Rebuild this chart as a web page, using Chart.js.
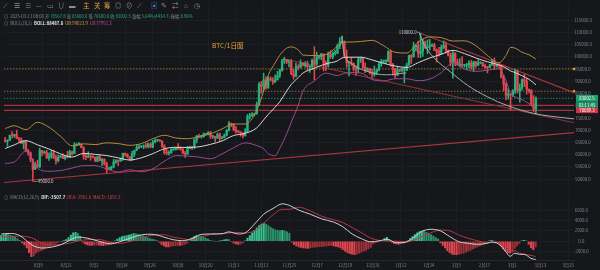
<!DOCTYPE html>
<html>
<head>
<meta charset="utf-8">
<script src="https://cdn.jsdelivr.net/npm/chart.js"></script>
<style>
body{margin:0;background:#15171b;}
#page{position:relative;width:600px;height:270px;overflow:hidden;background:#15171b;font-family:'Noto Sans CJK SC','Noto Sans',sans-serif;}
.box{position:absolute;}
.txt{position:absolute;white-space:nowrap;font-size:4.3px;color:#858a93;line-height:6px;}
.tool{position:absolute;top:1px;font-size:6.5px;color:#8d9199;line-height:8px;}
.y{color:#d9a43a;}
.g{color:#24b07d;}
.w{color:#e6e6e6;font-weight:bold;}
.o{color:#d4a03f;}
.p{color:#c0529f;}
.r{color:#d9444f;}
</style>
</head>
<body>
<div id="page">
  <div class="box" style="left:0;top:0;width:600px;height:192px"><canvas id="moncanvas"></canvas></div>
  <div class="box" style="left:0;top:192px;width:600px;height:78px"><canvas id="canvas2"></canvas></div>

  <span class="tool" style="left:3px">⟋</span>
  <span class="tool" style="left:14px">☰</span>
  <span class="tool" style="left:25px">≡</span>
  <span class="tool" style="left:36px">—</span>
  <span class="tool" style="left:47px">▭</span>
  <span class="tool" style="left:58px">∪</span>
  <span class="tool" style="left:69px">▬</span>
  <span class="tool y" style="left:83px">主</span>
  <span class="tool y" style="left:94px">关</span>
  <span class="tool y" style="left:104px">筹</span>
  <span class="tool" style="left:115px">◎</span>
  <span class="tool" style="left:126px">⊘</span>
  <span class="tool" style="left:137px">⟋</span>
  <span class="tool" style="left:151px;color:#3f7be0">▣</span>
  <span class="tool" style="left:161px">✎</span>
  <span class="tool" style="left:172px">⇄</span>
  <span class="tool" style="left:184px">⌂</span>
  <span class="tool" style="left:194px">◷</span>

  <div class="txt" style="left:4px;top:12.5px">⊙&nbsp; 2025-03-11 08:00 开 <span class="g">78567.8</span> 高 <span class="g">83600.0</span> 低 <span class="g">76600.0</span> 收 <span class="g">83002.5</span> 涨幅 <span class="g">5.64%(4434.7)</span> 振幅 <span class="g">8.96%</span></div>
  <div class="txt" style="left:4px;top:19.7px">⊙&nbsp; BOLL(20,2)&nbsp; <span class="w">BOLL:88487.6</span>&nbsp; <span class="o">UB:99023.9</span>&nbsp; <span class="p">LB:77951.3</span></div>
  <div class="txt" style="left:212px;top:41px;font-size:6.6px;line-height:9px;color:#e3a43a">BTC/1日图</div>
  <div class="txt" style="left:4px;top:193.7px">⊙&nbsp; MACD(12,26,9)&nbsp; <span class="w">DIF:-3507.7</span>&nbsp; <span class="r">DEA:-2961.6&nbsp; MACD:-1092.3</span></div>
</div>
<script>
// prices in thousands of USDT, one candle per day, day 0 = 2024-07-24
const opens = [
65.9,65.4,65.8,67.9,67.8,68.3,66.8,66.2,64.6,65.4,61.5,60.7,58.1,54.0,56.0,55.1,61.7,60.8,60.9,58.7,
59.3,60.6,58.7,57.5,58.9,59.5,58.4,59.5,59.0,61.2,60.4,64.0,64.2,64.3,62.9,59.4,59.0,59.4,59.1,58.9,
57.3,59.1,57.5,58.0,56.2,53.9,54.2,54.9,57.0,57.6,57.3,58.1,60.5,60.0,59.1,58.2,60.3,61.8,62.9,63.2,
63.3,63.6,63.3,64.3,63.1,65.2,65.8,65.9,65.6,63.3,60.8,60.6,60.8,62.1,62.1,62.8,62.3,62.2,60.6,60.3,
62.4,63.2,62.9,66.1,67.6,67.4,67.4,68.4,68.4,69.0,67.4,67.4,66.7,68.2,66.6,67.0,68.0,69.9,72.7,72.3,
70.2,69.5,69.3,68.7,67.8,69.4,75.6,75.9,76.5,76.7,80.4,88.7,87.9,90.5,87.4,91.1,90.6,89.8,90.5,92.3,
94.3,98.3,98.9,97.8,98.0,93.0,91.9,95.9,95.6,97.5,96.4,97.2,95.9,96.0,98.6,97.0,99.9,99.9,101.1,97.3,
96.6,101.1,100.0,101.4,101.4,104.5,106.1,106.1,100.2,97.5,97.8,97.3,95.2,94.9,98.7,99.3,95.8,94.2,95.2,93.6,
92.8,93.6,94.6,97.0,98.1,98.2,98.3,102.1,96.9,95.0,92.5,94.7,94.5,94.5,94.5,96.5,100.5,99.9,104.1,104.6,
101.3,102.3,106.1,103.7,104.0,104.7,104.7,102.6,102.1,101.3,103.7,104.7,102.4,100.6,97.7,101.4,97.9,96.6,96.6,96.5,
96.5,96.5,97.4,95.8,97.9,96.6,97.5,97.6,96.1,95.8,95.6,96.6,98.3,96.2,96.6,96.3,91.6,88.7,84.3,84.7,
84.4,86.1,94.3,86.1,87.2,90.6,89.9,86.7,86.2,80.7,78.5678
];
const highs = [
67.1,66.1,68.0,69.4,68.3,70.0,67.0,66.9,65.6,65.6,62.2,61.1,58.3,57.0,57.7,62.7,61.7,61.5,61.8,60.7,
61.6,61.8,59.8,59.8,59.6,60.3,59.6,61.4,61.8,61.4,64.9,64.5,64.9,64.4,63.2,60.2,61.2,59.9,59.5,59.1,
59.4,59.8,58.5,58.3,56.9,54.9,55.3,58.1,58.0,57.9,58.6,60.6,60.6,60.4,59.2,61.3,61.8,63.9,64.1,63.6,
64.0,64.7,64.8,64.8,65.8,66.5,66.3,66.1,65.6,64.1,62.4,61.5,62.5,62.4,63.0,64.5,63.2,62.5,61.3,63.4,
63.5,63.3,66.5,67.9,68.4,67.9,68.9,68.7,69.4,69.5,67.8,67.5,68.8,68.8,67.5,68.4,70.3,73.6,72.9,72.7,
71.6,69.9,69.4,69.0,70.6,76.4,76.9,77.2,76.9,81.5,89.5,89.9,93.3,91.8,91.9,91.8,91.5,92.6,94.0,94.9,
99.0,99.8,98.9,98.7,98.9,94.9,97.4,96.7,98.7,97.5,98.0,98.2,96.3,99.0,104.1,101.9,100.5,101.4,101.2,98.3,
101.9,102.5,102.0,102.7,105.2,107.8,108.4,106.5,102.8,98.1,99.5,97.4,96.4,99.5,99.9,99.9,97.5,95.5,95.2,94.9,
96.2,95.0,97.8,98.9,98.7,98.8,102.5,102.7,97.3,95.3,95.8,95.0,95.4,95.9,97.4,100.7,100.9,105.9,104.9,106.4,
109.6,107.2,106.4,106.9,107.1,105.3,105.5,103.2,103.8,104.8,106.5,106.0,102.8,101.5,102.5,101.7,99.0,99.2,100.1,96.9,
97.3,98.3,98.5,98.1,98.0,98.8,97.9,97.7,97.0,96.0,96.9,98.8,99.5,96.9,96.6,96.5,92.5,89.3,87.0,85.0,
86.6,95.0,94.4,88.9,91.0,92.8,91.2,86.8,86.5,84.1,83.6
];
const lows = [
65.1,63.4,65.8,66.7,67.0,66.5,65.3,64.5,62.3,61.1,59.8,57.1,49.0,54.0,54.6,54.7,59.5,60.3,58.4,57.6,
58.4,58.4,56.1,57.0,58.8,58.4,57.8,58.6,58.8,59.8,60.3,63.6,63.8,62.8,58.1,57.9,58.8,57.7,58.7,57.2,
57.1,57.4,55.6,55.7,52.5,53.7,53.6,54.6,56.4,55.5,57.3,57.6,59.4,58.7,57.5,57.6,59.2,61.6,62.4,62.8,
62.4,62.7,62.7,62.9,62.7,64.8,65.4,65.4,62.9,60.2,59.9,59.8,60.5,61.7,61.8,62.1,61.8,60.3,58.9,60.0,
62.4,62.0,62.4,64.8,66.8,66.7,67.1,68.0,68.1,66.6,66.6,65.3,66.6,65.5,66.4,66.8,67.6,69.7,71.4,69.7,
68.8,69.0,67.5,66.8,67.5,69.4,74.5,75.6,75.8,76.5,80.2,85.1,86.2,86.7,87.0,90.1,88.7,89.4,90.5,91.5,
94.1,97.2,97.2,95.8,92.6,90.8,91.8,94.6,95.4,96.2,95.7,94.3,93.6,94.7,90.5,96.4,99.0,98.8,94.2,94.3,
95.7,99.3,99.2,100.6,101.2,103.3,105.3,100.0,95.7,92.2,96.4,94.2,92.4,93.4,97.6,95.1,93.5,94.0,92.9,91.3,
92.0,92.7,94.2,96.0,97.5,97.3,97.9,96.1,92.5,91.2,92.2,93.8,93.7,89.3,94.3,96.5,97.3,99.9,102.3,99.7,
99.6,100.1,103.3,101.2,102.8,104.1,102.5,97.8,100.3,101.0,103.3,101.5,100.3,96.2,91.2,96.2,96.6,95.7,95.7,95.7,
94.7,95.3,94.9,94.1,95.7,96.3,97.1,96.0,95.2,93.4,95.5,96.4,94.9,95.8,95.1,91.3,86.1,82.3,82.7,78.3,
83.8,85.0,85.1,81.4,86.3,87.8,84.7,85.2,80.0,77.5,76.6
];
const closes = [
65.4,65.8,67.9,67.8,68.3,66.8,66.2,64.6,65.4,61.5,60.7,58.1,54.0,56.0,55.1,61.7,60.8,60.9,58.7,59.3,
60.6,58.7,57.5,58.9,59.5,58.4,59.5,59.0,61.2,60.4,64.0,64.2,64.3,62.9,59.4,59.0,59.4,59.1,58.9,57.3,
59.1,57.5,58.0,56.2,53.9,54.2,54.9,57.0,57.6,57.3,58.1,60.5,60.0,59.1,58.2,60.3,61.8,62.9,63.2,63.3,
63.6,63.3,64.3,63.1,65.2,65.8,65.9,65.6,63.3,60.8,60.6,60.8,62.1,62.1,62.8,62.3,62.2,60.6,60.3,62.4,
63.2,62.9,66.1,67.6,67.4,67.4,68.4,68.4,69.0,67.4,67.4,66.7,68.2,66.6,67.0,68.0,69.9,72.7,72.3,70.2,
69.5,69.3,68.7,67.8,69.4,75.6,75.9,76.5,76.7,80.4,88.7,87.9,90.5,87.4,91.1,90.6,89.8,90.5,92.3,94.3,
98.3,98.9,97.8,98.0,93.0,91.9,95.9,95.6,97.5,96.4,97.2,95.9,96.0,98.6,97.0,99.9,99.9,101.1,97.3,96.6,
101.1,100.0,101.4,101.4,104.5,106.1,106.1,100.2,97.5,97.8,97.3,95.2,94.9,98.7,99.3,95.8,94.2,95.2,93.6,92.8,
93.6,94.6,97.0,98.1,98.2,98.3,102.1,96.9,95.0,92.5,94.7,94.5,94.5,94.5,96.5,100.5,99.9,104.1,104.6,101.3,
102.3,106.1,103.7,104.0,104.7,104.7,102.6,102.1,101.3,103.7,104.7,102.4,100.6,97.7,101.4,97.9,96.6,96.6,96.5,96.5,
96.5,97.4,95.8,97.9,96.6,97.5,97.6,96.1,95.8,95.6,96.6,98.3,96.2,96.6,96.3,91.6,88.7,84.3,84.7,84.4,
86.1,94.3,86.1,87.2,90.6,89.9,86.7,86.2,80.7,78.6,83.0025
];

// BOLL(20,2) at these days
const bollDays = [0,4,9,14,19,24,29,34,39,44,49,54,59,64,69,74,79,84,89,94,99,104,109,112,114,117,119,122,124,127,129,134,139,144,146,149,154,159,164,169,174,179,184,189,194,199,204,209,214,217,219,221,224,227,230];
const bollUpper = [70.7,71.8,70.2,73.2,71.2,67.5,63.6,64.4,64.1,64.8,64.5,63.8,64.5,66.5,67.9,66.8,66.5,67.4,68.5,70.5,72.5,72.5,78.0,86.0,92.4,97.5,100.6,103.5,104.0,102.8,100.7,100.5,100.9,104.3,105.9,106.0,106.2,106.7,104.5,101.8,101.5,106.0,108.1,107.8,106.4,106.5,104.5,100.5,97.5,100.5,103.8,103.5,101.8,100.8,99.02];
const bollMid = [62.5,64.0,65.7,64.0,62.3,60.3,59.0,60.5,60.1,59.6,58.7,57.8,58.7,60.4,62.4,63.0,62.9,63.2,64.2,65.6,67.8,68.7,70.9,74.2,76.4,79.4,81.6,86.0,88.7,91.5,93.3,95.3,97.1,98.3,99.5,99.8,99.8,98.7,97.3,96.2,95.6,97.6,99.5,101.0,102.6,101.3,99.5,97.9,96.7,95.4,94.2,93.55,92.2,90.8,88.49];
const bollLower = [56.4,57.0,61.5,54.5,53.2,53.5,54.5,55.5,55.5,54.2,52.9,53.8,53.0,54.2,57.3,59.6,59.4,59.0,58.3,60.3,62.8,64.8,63.7,62.4,60.4,59.5,62.6,68.5,73.3,80.2,85.9,90.1,93.3,92.3,92.9,93.6,93.4,90.7,90.1,91.0,91.0,90.2,90.9,93.5,97.5,95.0,94.0,94.5,95.1,90.3,85.0,83.6,82.4,80.8,77.95];

// MACD(12,26,9)
const macdHist = [
1100,1250,1350,1300,1200,1000,800,500,200,-300,-700,-1300,-2200,
-2950,-2800,-2300,-2000,-1800,-1600,-1400,-1200,-1000,-700,-500,
-300,-150,0,150,300,700,1200,1600,1700,1500,1000,
-200,-500,-700,-800,-800,-750,-700,-750,-800,-850,-800,-700,-600,-400,
100,400,700,900,1000,1100,1200,1350,1470,1450,1350,1200,1050,900,700,500,400,300,150,
-200,-600,-900,-1100,-1100,-1000,-900,-850,-800,-800,-750,-600,-350,
100,600,900,1100,1050,950,800,600,400,200,100,0,-100,50,150,250,350,300,
-100,-300,-500,-600,-550,-300,
100,600,1100,1600,2100,2600,3000,3300,3500,3300,3000,2700,2400,2200,2100,2000,2100,2000,1800,1500,
-200,-600,-900,-1100,-1200,-1300,-1350,-1400,-1300,-1200,-1150,-1100,-1050,-1000,-950,-900,-850,-800,-900,-1000,-1100,
-1300,-1600,-1900,-2200,-2400,-2500,-2600,-2500,-2300,-2100,-1900,-1700,-1500,-1200,
-500,-300,-200,-100,100,500,740,300,-200,-400,-500,-600,-500,-400,-200,
100,500,900,1300,1600,1850,1970,1900,1700,1500,1300,1000,700,400,
-300,-800,-1300,-1800,-2200,-2500,-2600,-2600,-2500,-2400,-2300,-2100,-1900,-1700,-1500,-1300,-1100,-900,-700,-500,-200,
100,200,100,-100,-300,-900,-1500,-1900,-2200,-2300,-2100,-1400,-900,-400,100,200,100,
-600,-1300,-1600,-1092.3
];
const macdDays = [0,4,8,12,14,18,22,26,30,33,37,42,47,51,55,59,63,66,70,74,78,82,86,90,95,98,102,105,109,113,117,121,124,128,133,138,143,147,151,155,159,163,166,170,174,178,181,185,189,193,197,201,205,209,211,214,217,219,221,223,225,228,230];
const difVals = [1400,1500,1100,-300,-900,-1300,-1100,-600,300,800,600,0,-500,-100,500,1100,1350,1300,800,300,100,500,1300,1400,1450,1800,1400,1600,3300,5200,6300,7200,6900,6000,5200,4300,3700,2800,1400,500,-100,100,400,-300,-200,900,1900,2300,2000,900,-100,-400,-600,-400,-150,-500,-1900,-2900,-2300,-2500,-2500,-3300,-3507.7];
const deaVals = [850,900,1000,800,500,-500,-750,-600,-300,50,300,350,-200,-400,-100,400,1000,1150,1250,800,500,250,800,1300,1450,1600,1700,1600,2000,3450,5100,6150,6150,6550,5850,4800,4150,3600,2650,1650,600,150,30,0,-100,250,900,1650,2150,2000,1200,550,100,-300,-250,-350,-1000,-1800,-1800,-2300,-2550,-2700,-2961.6];

// drawn levels and trend lines (day, price)
const yellowLevels = [95.0, 85.9];
const redLevels = [80.15, 78.0893];
const lastPrice = 83.0025;
const markPrice = 78.0893;
const countdown = '03:11:45';
const trendUpper = [[180, 109.6], [246.5, 85.3]];
const trendLower = [[120.4, 99.2], [246.5, 73.0]];
const trendSupport = [[-0.5, 48.6], [246.5, 69.0]];
const arcJanDays = [179.4, 181.5, 185.8, 193.1, 200.4, 209, 217.7, 228.8, 236.2, 246.5];
const arcJanVals = [109.8, 105.1, 99.6, 93.7, 88.3, 83.6, 80.0, 76.9, 75.7, 74.6];
const arcDecDays = [145.9, 146.7, 150, 156.6, 165.2, 173.8];
const arcDecVals = [108.4, 102, 97.3, 94.1, 92.6, 93.4];
const highMark = [180, 109.6, '110000.0'];
const lowMark = [12, 49.0, '49000.0'];

// axes
const priceTicks = [115,110,105,100,95,90,85,80,75,70,65,60,55,50];
const macdTicks = [6000,4000,2000,0,-2000];
const tickDays = [16,28,40,52,64,76,88,100,112,124,136,148,160,172,184,196,208,220,232,244];
const tickLabels = ['8月9','8月21','9月2','9月14','9月26','10月8','10月20','11月1','11月13','11月25','12月7','12月19','12月31','1月12','1月24','2月5','2月17','3月1','3月13','3月25'];

const fam = "'Noto Sans CJK SC','Noto Sans',sans-serif";
const upColor = '#26b07e';
const downColor = '#e5474f';
const gridColor = '#1c1e23';
const tickColor = '#80858e';

const wicks = [], bodies = [], candleColors = [];
for (let i = 0; i < closes.length; i++) {
    wicks.push({x: i, y: [lows[i], highs[i]]});
    bodies.push({x: i, y: [opens[i], closes[i]]});
    candleColors.push(closes[i] >= opens[i] ? upColor : downColor);
}

function pairs(days, vals) {
    return days.map((d, i) => ({x: d, y: vals[i]}));
}
function lineSet(data, color, width, order, extra) {
    return Object.assign({
        type: 'line', data: data, borderColor: color, borderWidth: width,
        pointRadius: 0, tension: 0, order: order, fill: false
    }, extra || {});
}

const mainSets = [
    {type: 'bar', data: wicks, backgroundColor: candleColors, barThickness: 0.9, grouped: false, order: 6},
    {type: 'bar', data: bodies, backgroundColor: candleColors, barThickness: 1.7, minBarLength: 0.8, grouped: false, order: 5},
    lineSet(pairs(bollDays, bollUpper), '#b98a3c', 1, 3, {cubicInterpolationMode: 'monotone'}),
    lineSet(pairs(bollDays, bollMid), '#d6d6d6', 1, 3, {cubicInterpolationMode: 'monotone'}),
    lineSet(pairs(bollDays, bollLower), '#9d4a93', 1, 3, {cubicInterpolationMode: 'monotone'}),
    lineSet(pairs(arcJanDays, arcJanVals), '#a9a9a9', 1, 2, {cubicInterpolationMode: 'monotone'}),
    lineSet(pairs(arcDecDays, arcDecVals), '#a9a9a9', 1, 2, {cubicInterpolationMode: 'monotone'}),
    lineSet(trendUpper.map(p => ({x: p[0], y: p[1]})), '#a8363d', 1.2, 8),
    lineSet(trendLower.map(p => ({x: p[0], y: p[1]})), '#8f3338', 1.1, 8),
    lineSet(trendSupport.map(p => ({x: p[0], y: p[1]})), '#a8363d', 1.2, 8),
    lineSet([{x: -0.5, y: lastPrice}, {x: 246.5, y: lastPrice}], '#1f9f6f', 0.8, 10, {borderDash: [1.5, 1.5]})
];
for (const v of yellowLevels) {
    mainSets.push(lineSet([{x: -0.5, y: v}, {x: 246.5, y: v}], '#a88a3a', 0.8, 10, {
        borderDash: [1.5, 1.5], pointRadius: [0, 1.7], pointStyle: 'rect',
        pointBackgroundColor: '#d9a035', pointBorderWidth: 0, clip: false
    }));
}
for (const v of redLevels) {
    mainSets.push(lineSet([{x: -0.5, y: v}, {x: 246.5, y: v}], '#a3343c', 1.3, 9));
}

const tagPlugin = {
    id: 'tags',
    afterDraw(chart) {
        const ctx = chart.ctx;
        const x = chart.scales.x, y = chart.scales.y;
        ctx.save();
        ctx.font = '4.3px ' + fam;
        ctx.textBaseline = 'middle';
        // high / low marks
        let px = x.getPixelForValue(highMark[0]), py = y.getPixelForValue(highMark[1]);
        ctx.fillStyle = '#d8d8d8';
        ctx.textAlign = 'right';
        ctx.fillText(highMark[2], px - 4, py - 1);
        ctx.strokeStyle = '#bbbbbb'; ctx.lineWidth = 0.6;
        ctx.beginPath(); ctx.moveTo(px - 3.5, py - 1); ctx.lineTo(px - 0.5, py - 1); ctx.stroke();
        px = x.getPixelForValue(lowMark[0]); py = y.getPixelForValue(lowMark[1]);
        ctx.textAlign = 'left';
        ctx.fillText(lowMark[2], px + 5, py);
        ctx.beginPath(); ctx.moveTo(px + 1, py); ctx.lineTo(px + 4.5, py); ctx.stroke();
        // price tags on the axis
        const left = y.left + 2, w = 22;
        const yl = y.getPixelForValue(lastPrice);
        ctx.fillStyle = '#1d9c6c'; ctx.fillRect(left, yl - 3.4, w, 6.8);
        ctx.fillStyle = '#1a8a60'; ctx.fillRect(left, yl + 3.4, w, 6.6);
        const ym = y.getPixelForValue(markPrice);
        ctx.fillStyle = '#cf3843'; ctx.fillRect(left, ym - 2.6, w, 5.4);
        ctx.fillStyle = '#ffffff';
        ctx.textAlign = 'center';
        ctx.fillText((lastPrice * 1000).toFixed(1), left + w / 2, yl);
        ctx.fillText(countdown, left + w / 2, yl + 6.8);
        ctx.fillText((markPrice * 1000).toFixed(1), left + w / 2, ym + 0.2);
        ctx.restore();
    }
};

const config = {
    type: 'bar',
    data: {datasets: mainSets},
    plugins: [tagPlugin],
    options: {
        responsive: true, maintainAspectRatio: false, animation: false,
        layout: {padding: 0},
        plugins: {legend: {display: false}, tooltip: {enabled: false}},
        scales: {
            x: {
                type: 'linear', min: -0.5, max: 246.5, offset: false,
                afterBuildTicks: s => { s.ticks = tickDays.map(v => ({value: v})); },
                afterFit: s => { s.height = 0; },
                ticks: {display: false},
                grid: {color: gridColor, drawTicks: false, offset: false},
                border: {display: false}
            },
            y: {
                position: 'right', min: 46.36, max: 121.54,
                afterBuildTicks: s => { s.ticks = priceTicks.map(v => ({value: v})); },
                afterFit: s => { s.width = 26; },
                ticks: {
                    callback: v => (v * 1000).toFixed(1), color: tickColor, padding: 0,
                    crossAlign: 'center', font: {size: 4.3, family: fam}
                },
                grid: {color: gridColor, drawTicks: false},
                border: {display: false}
            }
        }
    }
};
const myChart = new Chart(document.querySelector('#moncanvas'), config);

// MACD pane
const histData = [], histColors = [];
for (let i = 0; i < macdHist.length; i++) {
    const v = macdHist[i], prev = i > 0 ? macdHist[i - 1] : 0;
    histData.push({x: i, y: v});
    if (v >= 0) histColors.push(v >= prev ? '#38c08f' : '#2a8f6b');
    else histColors.push(v <= prev ? '#df4550' : '#9c3139');
}

const configMacd = {
    type: 'bar',
    data: {
        datasets: [
            {type: 'bar', data: histData, backgroundColor: histColors, barThickness: 1.4, grouped: false, order: 5},
            lineSet(pairs(macdDays, difVals), '#cfcfcf', 1, 2, {cubicInterpolationMode: 'monotone'}),
            lineSet(pairs(macdDays, deaVals), '#b33941', 1, 3, {cubicInterpolationMode: 'monotone'})
        ]
    },
    options: {
        responsive: true, maintainAspectRatio: false, animation: false,
        layout: {padding: 0},
        plugins: {legend: {display: false}, tooltip: {enabled: false}},
        scales: {
            x: {
                type: 'linear', min: -0.5, max: 246.5, offset: false,
                afterBuildTicks: s => { s.ticks = tickDays.map(v => ({value: v})); },
                afterFit: s => { s.height = 9.3; },
                ticks: {
                    callback: (v, i) => tickLabels[i], autoSkip: false, maxRotation: 0,
                    color: tickColor, padding: 2, font: {size: 4.3, family: fam}
                },
                grid: {color: gridColor, drawTicks: false, offset: false},
                border: {display: true, color: '#26282e'}
            },
            y: {
                position: 'right', min: -3742, max: 8977,
                afterBuildTicks: s => { s.ticks = macdTicks.map(v => ({value: v})); },
                afterFit: s => { s.width = 26; },
                ticks: {
                    callback: v => v.toFixed(1), color: tickColor, padding: 0,
                    crossAlign: 'center', font: {size: 4.3, family: fam}
                },
                grid: {color: gridColor, drawTicks: false},
                border: {display: false}
            }
        }
    }
};
const myChartMacd = new Chart(document.querySelector('#canvas2'), configMacd);
</script>
</body>
</html>
